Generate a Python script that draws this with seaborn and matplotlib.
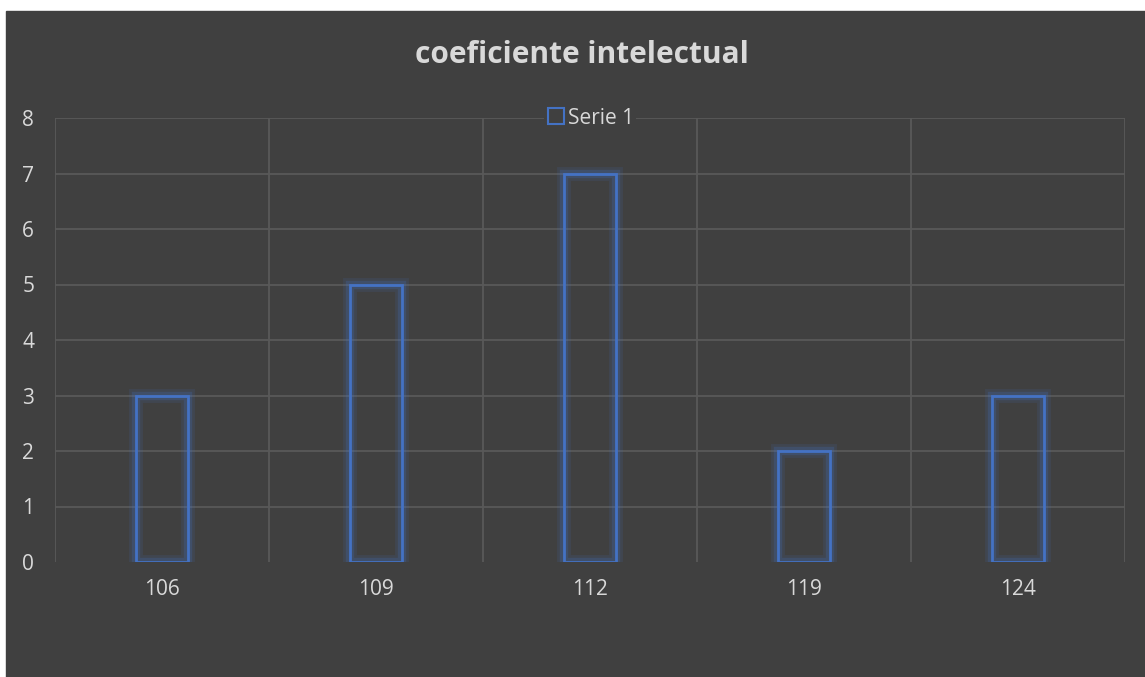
import matplotlib
matplotlib.use("Agg")
import matplotlib.pyplot as plt
import matplotlib.patheffects as pe
from matplotlib.patches import Rectangle
from matplotlib.lines import Line2D
import seaborn as sns

# datos
categorias = ["106", "109", "112", "119", "124"]
serie_1 = [3, 5, 7, 2, 3]

fondo = "#404040"
azul = "#4472C4"
rejilla = "#595959"
texto = "#d9d9d9"

sns.set_style("dark")
plt.rcParams["font.family"] = ["Open Sans", "DejaVu Sans"]

fig = plt.figure(figsize=(11.45, 6.77), dpi=100, facecolor="white")
# fondo oscuro del gráfico (borde blanco arriba e izquierda)
fig.patches.append(Rectangle((6 / 1145, 0), 1, 1 - 11 / 677,
                             transform=fig.transFigure, color=fondo, zorder=-10))

ax = fig.add_axes([55 / 1145, 1 - 562 / 677, 1070 / 1145, 444 / 677])
ax.set_facecolor(fondo)

sns.barplot(x=categorias, y=serie_1, ax=ax, fill=False, color=azul,
            width=0.243, linewidth=2, zorder=3)
for barra in ax.patches:
    barra.set_edgecolor(azul)
    barra.set_path_effects([
        pe.Stroke(linewidth=10, foreground=azul, alpha=0.12),
        pe.Stroke(linewidth=6, foreground=azul, alpha=0.22),
        pe.Normal(),
    ])

ax.set_ylim(0, 8)
ax.set_xlim(-0.5, 4.5)
ax.set_yticks(range(0, 9))
# líneas de rejilla
for y in range(1, 9):
    ax.axhline(y, color=rejilla, linewidth=1.3, zorder=1)
for x in [-0.5, 0.5, 1.5, 2.5, 3.5, 4.5]:
    ax.axvline(x, color=rejilla, linewidth=1.3, zorder=1)

for s in ax.spines.values():
    s.set_visible(False)
ax.tick_params(axis="both", length=0, colors=texto, labelsize=15)
ax.tick_params(axis="x", pad=12)
ax.tick_params(axis="y", pad=15)
ax.set_xlabel("")
ax.set_ylabel("")

fig.text(582 / 1145, 1 - 55 / 677, "coeficiente intelectual", ha="center",
         va="center", fontsize=21.5, fontweight="bold", color=texto)

marca = Line2D([], [], marker="s", linestyle="none", markersize=11,
               markerfacecolor="none", markeredgecolor=azul, markeredgewidth=1.5)
leyenda = ax.legend([marca], ["Serie 1"], loc="center", bbox_to_anchor=(0.5, 1.0),
                    frameon=True, facecolor=fondo, edgecolor="none", framealpha=1,
                    fontsize=15, labelcolor=texto, handletextpad=0.05,
                    handlelength=1.0, borderpad=0.1, fancybox=False)
leyenda.set_zorder(5)

fig.savefig("out.png", dpi=100, facecolor=fig.get_facecolor())
